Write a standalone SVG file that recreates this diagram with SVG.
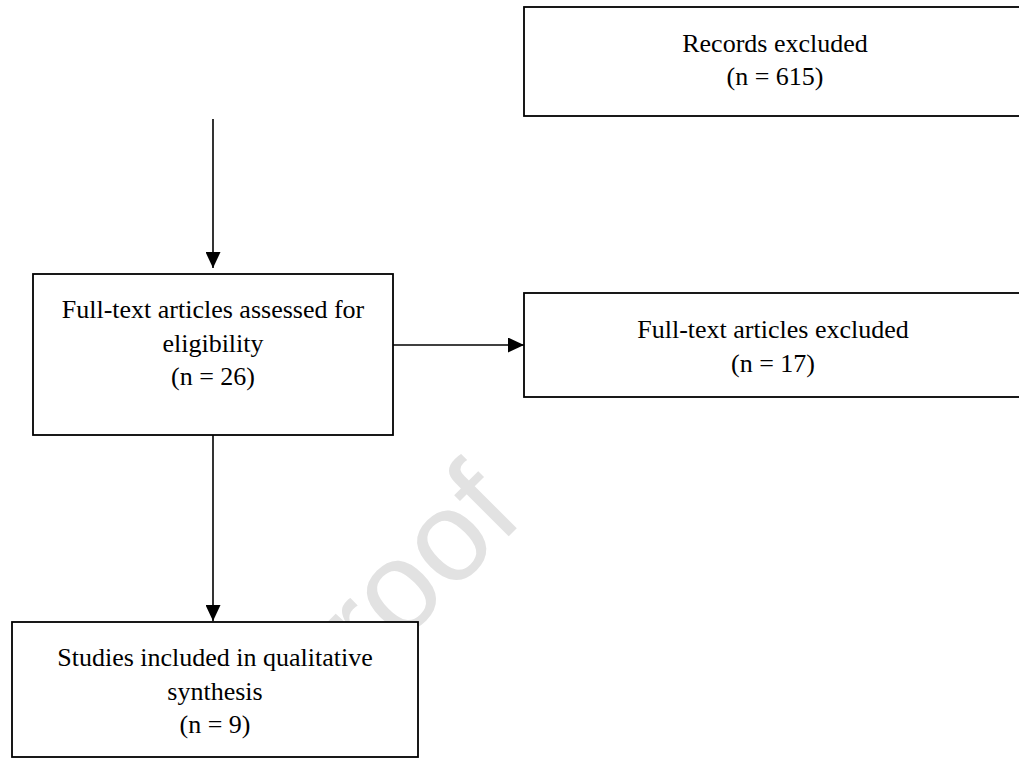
<svg xmlns="http://www.w3.org/2000/svg" width="1019" height="760" viewBox="0 0 1019 760">
  <defs>
    <style>
      .box { fill: #ffffff; stroke: #000000; stroke-width: 1.8; }
      .lbl { font-family: "Liberation Serif", "Times New Roman", serif; font-size: 26px; fill: #000000; text-anchor: middle; }
      .conn { stroke: #000000; stroke-width: 1.6; fill: none; }
      .wm { font-family: "Liberation Sans", Arial, sans-serif; font-size: 128px; fill: #e2e2e2; text-anchor: end; }
    </style>
    <marker id="arrow" viewBox="0 0 16 15" refX="16" refY="7.5" markerWidth="16" markerHeight="15" markerUnits="userSpaceOnUse" orient="auto">
      <path d="M0,0 L16,7.5 L0,15 z" fill="#000000"/>
    </marker>
  </defs>
  <rect width="1019" height="760" fill="#ffffff"/>

  <g id="watermark">
    <text class="wm" transform="translate(526,519) rotate(-45)">roof</text>
  </g>

  <g id="node-records-excluded">
    <rect class="box" x="524" y="7" width="510" height="109"/>
    <text class="lbl" x="775" y="52">Records excluded</text>
    <text class="lbl" x="775" y="85">(n = 615)</text>
  </g>

  <g id="node-fulltext-assessed">
    <rect class="box" x="33" y="274" width="360" height="161"/>
    <text class="lbl" x="213" y="318">Full-text articles assessed for</text>
    <text class="lbl" x="213" y="351.5">eligibility</text>
    <text class="lbl" x="213" y="385">(n = 26)</text>
  </g>

  <g id="node-fulltext-excluded">
    <rect class="box" x="524" y="293" width="510" height="104"/>
    <text class="lbl" x="773" y="338">Full-text articles excluded</text>
    <text class="lbl" x="773" y="372">(n = 17)</text>
  </g>

  <g id="node-studies-included">
    <rect class="box" x="12" y="622" width="406" height="135"/>
    <text class="lbl" x="215" y="666">Studies included in qualitative</text>
    <text class="lbl" x="215" y="699.5">synthesis</text>
    <text class="lbl" x="215" y="733">(n = 9)</text>
  </g>

  <g id="connectors">
    <line class="conn" x1="213" y1="119" x2="213" y2="268" marker-end="url(#arrow)"/>
    <line class="conn" x1="393" y1="345" x2="524" y2="345" marker-end="url(#arrow)"/>
    <line class="conn" x1="213" y1="435" x2="213" y2="621" marker-end="url(#arrow)"/>
  </g>
</svg>
